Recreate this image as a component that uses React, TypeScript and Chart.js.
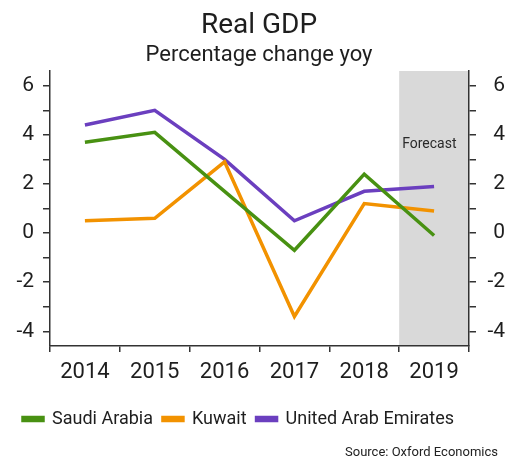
import React, { useEffect, useRef } from "react";
import { Chart, registerables } from "chart.js";

Chart.register(...registerables);

const categories = ["2014", "2015", "2016", "2017", "2018", "2019"];
const saudiArabia = [3.7, 4.1, 1.7, -0.7, 2.4, -0.1];
const kuwait = [0.5, 0.6, 2.9, -3.4, 1.2, 0.9];
const uae = [4.4, 5.0, 3.0, 0.5, 1.7, 1.9];
const yTickValues = [-4, -3, -2, -1, 0, 1, 2, 3, 4, 5, 6];
const forecastFrom = "2019";
const titleText = "Real GDP";
const subtitleText = "Percentage change yoy";
const sourceText = "Source: Oxford Economics";
const forecastLabel = "Forecast";

const FONT = "Roboto";
const AXIS_COLOR = "#333333";
const TEXT_COLOR = "#1e1e1e";

const forecastPlugin = {
  id: "forecastShade",
  beforeDraw(chart: any) {
    const { ctx, chartArea, scales } = chart;
    const idx = categories.indexOf(forecastFrom);
    const x0 = scales.x.getPixelForValue(idx - 0.5);
    ctx.save();
    ctx.fillStyle = "#d9d9d9";
    ctx.fillRect(x0, chartArea.top, chartArea.right - x0, chartArea.bottom - chartArea.top);
    ctx.fillStyle = "#2a2a2a";
    ctx.font = `14px ${FONT}`;
    ctx.textAlign = "left";
    ctx.textBaseline = "middle";
    ctx.fillText(forecastLabel, x0 + 3, scales.y.getPixelForValue(3.6));
    ctx.restore();
  },
  afterDraw(chart: any) {
    const { ctx } = chart;
    ctx.save();
    ctx.fillStyle = "#222222";
    ctx.font = `13px ${FONT}`;
    ctx.textAlign = "right";
    ctx.textBaseline = "middle";
    ctx.fillText(sourceText, chart.width - 7, chart.height - 8);
    ctx.restore();
  },
};

export default function App() {
  const ref = useRef<HTMLCanvasElement | null>(null);
  useEffect(() => {
    if (!ref.current) return;
    const tickCb = (v: any) => (Number(v) % 2 === 0 ? String(v) : "");
    const setTicks = (scale: any) => {
      scale.ticks = yTickValues.map((v) => ({ value: v }));
    };
    const chart = new Chart(ref.current, {
      type: "line",
      data: {
        labels: categories,
        datasets: [
          { label: "Saudi Arabia", data: saudiArabia, borderColor: "#489112", backgroundColor: "#489112" },
          { label: "Kuwait", data: kuwait, borderColor: "#f29200", backgroundColor: "#f29200" },
          { label: "United Arab Emirates", data: uae, borderColor: "#6b3fbf", backgroundColor: "#6b3fbf" },
        ].map((d) => ({ ...d, borderWidth: 3.5, pointRadius: 0, tension: 0, yAxisID: "y" })),
      },
      options: {
        animation: false,
        responsive: false,
        devicePixelRatio: 1,
        layout: { padding: { left: 13, right: 0, top: 0, bottom: 23 } },
        plugins: {
          title: {
            display: true,
            text: titleText,
            color: TEXT_COLOR,
            font: { family: FONT, size: 28, weight: "normal", lineHeight: 1.1 },
            padding: { top: 11, bottom: 0 },
          },
          subtitle: {
            display: true,
            text: subtitleText,
            color: TEXT_COLOR,
            font: { family: FONT, size: 22, weight: "normal", lineHeight: 1.2 },
            padding: { top: 0, bottom: 2.8 },
          },
          legend: {
            position: "bottom",
            align: "start",
            labels: {
              color: TEXT_COLOR,
              font: { family: FONT, size: 18 },
              boxWidth: 20,
              boxHeight: 3,
              padding: 10,
            },
          },
          tooltip: { enabled: false },
        },
        scales: {
          x: {
            type: "category",
            offset: true,
            grid: { offset: true, drawOnChartArea: false, drawTicks: true, tickLength: 6, color: AXIS_COLOR, lineWidth: 1.5 },
            border: { display: true, color: AXIS_COLOR, width: 1.5 },
            ticks: { color: TEXT_COLOR, font: { family: FONT, size: 22 }, padding: 7, maxRotation: 0 },
            afterFit: (s: any) => { s.height = 54; },
          },
          y: {
            position: "left",
            min: -4.6,
            max: 6.6,
            afterBuildTicks: setTicks,
            grid: { drawOnChartArea: false, drawTicks: true, tickLength: 7, color: AXIS_COLOR, lineWidth: 1.5 },
            border: { display: true, color: AXIS_COLOR, width: 1.5 },
            ticks: { color: TEXT_COLOR, font: { family: FONT, size: 21 }, padding: 9, callback: tickCb, autoSkip: false },
            afterFit: (s: any) => { s.width = 37; },
          },
          y2: {
            position: "right",
            min: -4.6,
            max: 6.6,
            afterBuildTicks: setTicks,
            grid: { drawOnChartArea: false, drawTicks: true, tickLength: 7, color: AXIS_COLOR, lineWidth: 1.5 },
            border: { display: true, color: AXIS_COLOR, width: 1.5 },
            ticks: { color: TEXT_COLOR, font: { family: FONT, size: 21 }, padding: 8, callback: tickCb, crossAlign: "far", autoSkip: false },
            afterFit: (s: any) => { s.width = 36; },
          },
        },
      } as any,
      plugins: [forecastPlugin],
    });
    return () => chart.destroy();
  }, []);
  return (
    <div style={{ position: "fixed", left: 0, top: 0, width: 505, height: 461, background: "#fff" }}>
      <canvas ref={ref} width={505} height={461} />
    </div>
  );
}
